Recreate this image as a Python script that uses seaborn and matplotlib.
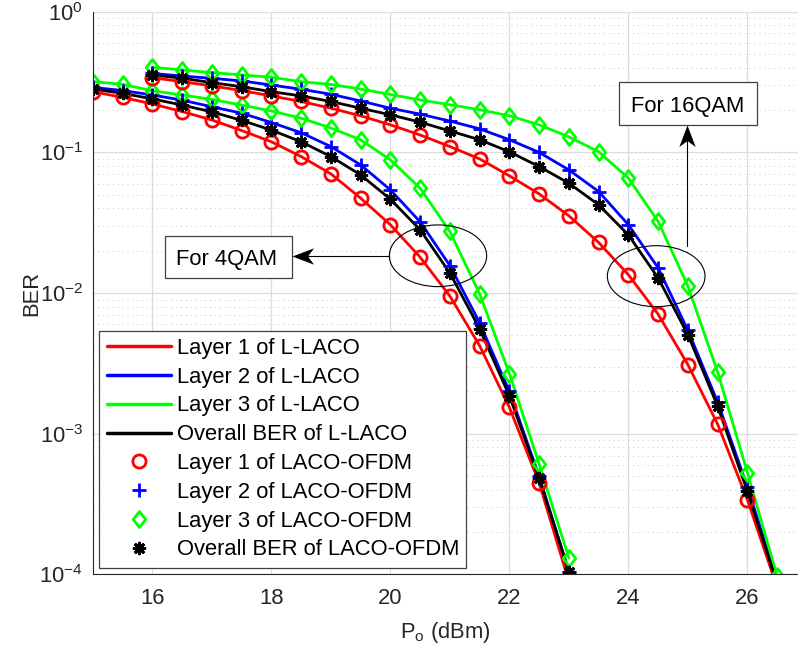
import matplotlib
matplotlib.use("Agg")
import numpy as np
import matplotlib.pyplot as plt
import seaborn as sns
from matplotlib.lines import Line2D
from matplotlib.patches import Ellipse, Rectangle
from matplotlib.path import Path
from matplotlib.ticker import LogLocator, LogFormatterMathtext, NullFormatter, FixedLocator

# ---------------------------------------------------------------- data
# Optical power P_o (dBm)
p_4qam = [15.0, 15.5, 16.0, 16.5, 17.0, 17.5, 18.0, 18.5, 19.0,
          19.5, 20.0, 20.5, 21.0, 21.5, 22.0, 22.5, 23.0]
p_16qam = [16.0, 16.5, 17.0, 17.5, 18.0, 18.5, 19.0, 19.5, 20.0, 20.5, 21.0,
           21.5, 22.0, 22.5, 23.0, 23.5, 24.0, 24.5, 25.0, 25.5, 26.0, 26.5]

# BER, 4QAM
ber4_layer1 = [0.270, 0.246, 0.221, 0.195, 0.170, 0.143, 0.119, 0.0934, 0.0704,
               0.0473, 0.0306, 0.0180, 0.00952, 0.00423, 0.00154, 4.48e-4, 8.9e-5]
ber4_layer2 = [0.290, 0.275, 0.256, 0.235, 0.211, 0.190, 0.163, 0.138, 0.110,
               0.0815, 0.0542, 0.0321, 0.0157, 0.00615, 0.00200, 4.98e-4, 1.05e-4]
ber4_layer3 = [0.318, 0.305, 0.274, 0.256, 0.238, 0.217, 0.197, 0.175, 0.149,
               0.123, 0.0885, 0.0557, 0.0274, 0.00986, 0.00268, 6.10e-4, 1.31e-4]
ber4_overall = [0.282, 0.263, 0.240, 0.217, 0.194, 0.169, 0.144, 0.119, 0.0934,
                0.0692, 0.0465, 0.0282, 0.0139, 0.00558, 0.00186, 4.85e-4, 1.05e-4]

# BER, 16QAM
ber16_layer1 = [0.340, 0.318, 0.297, 0.275, 0.252, 0.230, 0.206, 0.182, 0.157,
                0.133, 0.110, 0.0899, 0.0681, 0.0507, 0.0354, 0.0229, 0.0135,
                0.00707, 0.00310, 0.00117, 3.39e-4, 8.1e-5]
ber16_layer2 = [0.364, 0.349, 0.336, 0.322, 0.301, 0.281, 0.259, 0.232, 0.206,
                0.187, 0.167, 0.147, 0.123, 0.100, 0.0751, 0.0527, 0.0306,
                0.0151, 0.00544, 0.00168, 4.19e-4, 9.0e-5]
ber16_layer3 = [0.403, 0.385, 0.369, 0.355, 0.342, 0.318, 0.304, 0.282, 0.258,
                0.236, 0.218, 0.201, 0.182, 0.157, 0.129, 0.101, 0.0656,
                0.0323, 0.0112, 0.00274, 5.30e-4, 9.7e-5]
ber16_overall = [0.355, 0.337, 0.313, 0.293, 0.270, 0.252, 0.230, 0.206, 0.185,
                 0.164, 0.142, 0.123, 0.101, 0.0793, 0.0604, 0.0424, 0.0259,
                 0.0128, 0.00506, 0.00157, 3.90e-4, 8.6e-5]

line_labels = ["Layer 1 of L-LACO", "Layer 2 of L-LACO",
               "Layer 3 of L-LACO", "Overall BER of L-LACO"]
marker_labels = ["Layer 1 of LACO-OFDM", "Layer 2 of LACO-OFDM",
                 "Layer 3 of LACO-OFDM", "Overall BER of LACO-OFDM"]

# ---------------------------------------------------------------- style
sns.set_style("white")
plt.rcParams["font.family"] = ["Liberation Sans", "DejaVu Sans"]
plt.rcParams["mathtext.fontset"] = "custom"
plt.rcParams["mathtext.rm"] = "Liberation Sans"
plt.rcParams["mathtext.it"] = "Liberation Sans:italic"
plt.rcParams["mathtext.bf"] = "Liberation Sans:bold"

FS = 15.8
colors = ["#ff0000", "#0000ff", "#00ff00", "#000000"]
diamond = Path([(0, 1), (0.78, 0), (0, -1), (-0.78, 0), (0, 1)],
               [Path.MOVETO, Path.LINETO, Path.LINETO, Path.LINETO, Path.CLOSEPOLY])
markers = ["o", "+", diamond, (8, 2, 0)]
msizes = [9.5, 10, 11.5, 9.5]

fig = plt.figure(figsize=(7.98, 6.49), dpi=100)
ax = fig.add_axes([0.1163, 0.1148, 0.8837, 0.8672])

curves_4 = [ber4_layer1, ber4_layer2, ber4_layer3, ber4_overall]
curves_16 = [ber16_layer1, ber16_layer2, ber16_layer3, ber16_overall]

# analytical curves (solid lines)
for p, curves in ((p_4qam, curves_4), (p_16qam, curves_16)):
    for ber, c in zip(curves, colors):
        sns.lineplot(x=p, y=ber, color=c, lw=2, ax=ax, legend=False,
                     estimator=None, sort=False)

# simulated points (markers)
for p, curves in ((p_4qam, curves_4), (p_16qam, curves_16)):
    for ber, c, m, ms in zip(curves, colors, markers, msizes):
        sns.lineplot(x=p, y=ber, color=c, ax=ax, legend=False, estimator=None,
                     sort=False, linestyle="none", marker=m, markersize=ms,
                     markerfacecolor="none", markeredgecolor=c,
                     markeredgewidth=2)

ax.set_yscale("log")
ax.set_xlim(15, 26.85)
ax.set_ylim(1e-4, 1)

ax.xaxis.set_major_locator(FixedLocator([16, 18, 20, 22, 24, 26]))
ax.yaxis.set_major_locator(LogLocator(base=10, numticks=10))
ax.yaxis.set_major_formatter(LogFormatterMathtext())
ax.yaxis.set_minor_locator(LogLocator(base=10, subs=np.arange(2, 10), numticks=20))
ax.yaxis.set_minor_formatter(NullFormatter())

ax.tick_params(axis="both", which="both", direction="in", length=5, width=0.8,
               colors="#262626", labelcolor="#262626", labelsize=FS,
               top=False, right=False)
ax.tick_params(axis="x", pad=10)
ax.tick_params(axis="y", pad=7)

ax.set_axisbelow(True)
ax.grid(True, which="major", color="#dcdcdc", lw=0.9, ls="-")
ax.yaxis.grid(True, which="minor", color="#c8c8c8", lw=0.7, ls=(0, (1, 4)))
ax.xaxis.grid(False, which="minor")

for side in ("top", "right"):
    ax.spines[side].set_visible(False)
for side in ("left", "bottom"):
    ax.spines[side].set_color("#262626")
    ax.spines[side].set_linewidth(0.8)

ax.set_xlabel("P$_\\mathrm{o}$ (dBm)", fontsize=FS, color="#262626")
ax.set_ylabel("BER", fontsize=FS, color="#262626")
ax.xaxis.set_label_coords(0.5, -0.080)
ax.yaxis.set_label_coords(-0.071, 0.5)

# ---------------------------------------------------------------- legend
handles = []
for c, lab in zip(colors, line_labels):
    handles.append(Line2D([], [], color=c, lw=2.5, label=lab))
for c, m, ms, lab in zip(colors, markers, msizes, marker_labels):
    handles.append(Line2D([], [], ls="none", marker=m, markersize=ms,
                          markerfacecolor="none", markeredgecolor=c,
                          markeredgewidth=2, label=lab))
leg = ax.legend(handles=handles, loc="lower left",
                bbox_to_anchor=(0.0092, 0.0121), borderaxespad=0,
                fontsize=FS, handlelength=2.95, handletextpad=0.25,
                labelspacing=0.356, borderpad=0.33, frameon=True,
                fancybox=False, framealpha=1, edgecolor="#404040")
leg.get_frame().set_linewidth(0.9)
for t in leg.get_texts():
    t.set_color("black")

# ---------------------------------------------------------------- annotations
def stealth(direction):
    pts = np.array([(0, 0), (-1, 0.38), (-0.72, 0), (-1, -0.38), (0, 0)])
    if direction == "up":
        pts = pts[:, ::-1].copy()
    if direction == "left":
        pts[:, 0] = -pts[:, 0]
    return Path(pts, [Path.MOVETO, Path.LINETO, Path.LINETO, Path.LINETO, Path.CLOSEPOLY])

T = ax.transAxes

# 4QAM group
ax.add_patch(Ellipse((0.4895, 0.5663), 0.138, 0.1096, transform=T,
                     fill=False, ec="black", lw=0.8, zorder=6))
ax.plot([0.4204, 0.2900], [0.5659, 0.5659], transform=T, color="black",
        lw=0.8, zorder=6)
ax.plot([0.2829], [0.5659], transform=T, marker=stealth("left"), ms=31,
        color="black", mec="black", mew=0, zorder=7, clip_on=False)
ax.add_patch(Rectangle((0.1024, 0.5263), 0.1805, 0.0752, transform=T,
                       fc="white", ec="#404040", lw=0.9, zorder=6))
ax.text(0.1893, 0.5499, "For 4QAM", transform=T, ha="center", va="baseline",
        fontsize=FS, color="black", zorder=7)

# 16QAM group
ax.add_patch(Ellipse((0.7989, 0.5300), 0.1385, 0.1084, transform=T,
                     fill=False, ec="black", lw=0.8, zorder=6))
ax.plot([0.8430, 0.8430], [0.5842, 0.790], transform=T, color="black",
        lw=0.8, zorder=6)
ax.plot([0.8430], [0.7987], transform=T, marker=stealth("up"), ms=31,
        color="black", mec="black", mew=0, zorder=7, clip_on=False)
ax.add_patch(Rectangle((0.7466, 0.7987), 0.1957, 0.0759, transform=T,
                       fc="white", ec="#404040", lw=0.9, zorder=6))
ax.text(0.8433, 0.8223, "For 16QAM", transform=T, ha="center", va="baseline",
        fontsize=FS, color="black", zorder=7)

fig.savefig("out.png", dpi=100)
